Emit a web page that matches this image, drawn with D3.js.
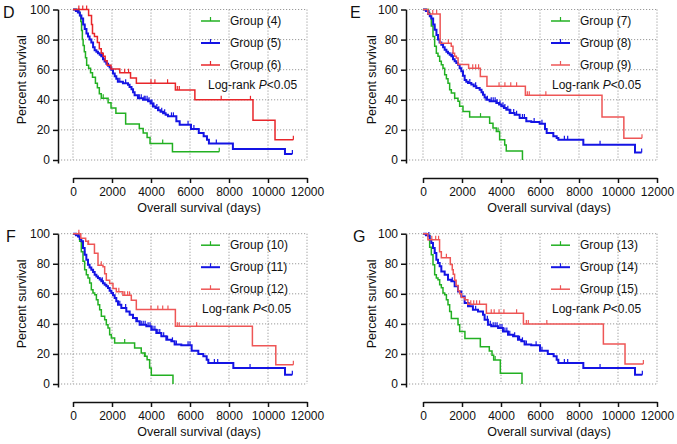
<!DOCTYPE html>
<html>
<head>
<meta charset="utf-8">
<script src="https://cdn.jsdelivr.net/npm/d3@7"></script>
<style>
  body { margin: 0; background: #fff; }
  svg { display: block; }
  text { font-family: "Liberation Sans", Arial, sans-serif; fill: #111; }
</style>
</head>
<body>
<svg id="chart"></svg>
<script>
const xTicks = [0, 2000, 4000, 6000, 8000, 10000, 12000]
const yTicks = [0, 20, 40, 60, 80, 100]
const panelLetters = ['D', 'E', 'F', 'G']
const groupLabels = [
  ['Group (4)', 'Group (5)', 'Group (6)'],
  ['Group (7)', 'Group (8)', 'Group (9)'],
  ['Group (10)', 'Group (11)', 'Group (12)'],
  ['Group (13)', 'Group (14)', 'Group (15)'],
]

// [days, percent surviving after the step]
const g4 = [[0,100],[300,98],[350,96],[400,92],[440,86],[480,80],[520,76],[580,72],[640,68],[700,63],[800,61],[900,58],[1000,55],[1150,51],[1250,48],[1350,44],[1450,41],[1800,38],[1950,34.5],[2200,31],[2700,24],[3400,21],[3600,18],[3800,15],[3950,11],[5100,5.5]]
const g4Cens = [1550, 4600, 7500]
const b5 = [[0,100],[150,99],[250,98],[350,96],[430,94],[520,90],[600,87],[690,84],[770,82],[850,80],[940,78],[1030,75],[1110,73],[1200,72],[1280,71],[1370,70],[1450,69],[1540,67],[1620,65.5],[1710,64],[1800,62.7],[1880,61.5],[1960,60],[2050,57.5],[2140,55.6],[2220,54],[2300,52],[2560,51],[2820,50],[2900,48.5],[3000,47],[3080,45],[3160,43],[3330,41],[3590,40],[3850,39],[3980,37.5],[4100,35.6],[4230,34.5],[4360,33],[4490,32],[4620,31],[4750,30],[4870,29],[5300,25.7],[5470,23.5],[6050,20.6],[6450,18],[6700,15.7],[6870,13.5],[6970,11],[8200,7.3],[10870,4]]
const b5Cens = [300,600,1500,2400,2700,3400,3500,3650,3700,3800,3900,4000,4050,4150,4300,4400,4550,4700,5050,5150,5900,6200,7350,11250]
const r6 = [[0,100],[800,96],[950,90],[1000,84],[1100,82],[1250,78],[1350,74],[1450,71],[1550,69],[1650,66],[1750,63],[1950,60.5],[2400,58],[2950,54.5],[3250,51],[5250,46.5],[6250,40],[9230,26.4],[10360,13.5]]
const r6Cens = [300,500,700,2650,2850,4000,4200,4850,5350,5450,7600,9100,11300]

const g7 = [[0,100],[280,98],[342,95.5],[427,89],[513,82],[598,75.5],[684,71],[769,69],[855,65.6],[940,63.3],[1025,61],[1111,56.7],[1200,54],[1282,51],[1367,46.7],[1453,44.5],[1624,41],[1795,39],[1880,35.7],[2051,32.3],[2393,28.5],[3418,24.5],[3590,21.3],[3760,19],[3930,13.5],[4190,10],[4270,6],[5100,0]]
const g7Cens = [2950, 3850]
const b8 = [[0,100],[150,99],[256,97],[350,95.5],[427,94],[520,90],[598,86.6],[690,83],[769,80],[850,78],[940,76.6],[1030,75],[1111,73.3],[1200,72],[1282,71],[1370,70],[1453,68.9],[1540,67],[1624,65.6],[1710,64.5],[1795,63.3],[1880,61],[1966,58.9],[2050,56],[2136,53.2],[2220,52],[2307,51.2],[2478,50.1],[2600,49],[2734,47.8],[2905,46.7],[3000,45],[3076,43.4],[3160,41.5],[3247,40.1],[3418,39],[3760,37.9],[3900,36.8],[4016,35.7],[4150,34.5],[4273,33.4],[4444,31.2],[4700,30.1],[4956,27.9],[5298,25.7],[5554,25.2],[5982,24.1],[6256,20.6],[6342,17.9],[6684,15.7],[6855,14.6],[6940,13.5],[8222,10.2],[10872,5]]
const b8Cens = [300,600,1500,2400,2700,3300,3500,3600,3700,3800,3950,4100,4200,4350,4500,4650,4800,5100,5200,5700,6100,7250,7420,9080,11214]
const r9 = [[0,100],[250,97],[880,77.5],[1450,75.5],[1540,71],[1620,69],[1710,67.8],[1800,63.5],[2340,61],[2940,55.5],[3280,49],[5250,43],[9180,28.5],[10300,14.5]]
const r9Cens = [500,700,1300,2550,2700,2850,3900,4200,4500,4800,5350,5450,6300,11230]

const g10 = [[0,100],[300,98],[342,95],[427,88],[513,81.6],[598,76],[684,72.7],[769,70.5],[855,67.2],[940,62.7],[1025,60.5],[1111,59.4],[1200,56],[1282,52.8],[1367,49.4],[1453,45],[1624,42.8],[1709,39.5],[1795,37.3],[1880,32.8],[1966,30.6],[2136,27.3],[3160,23.9],[3500,20.6],[3670,18.4],[3800,16.2],[3930,10.6],[4016,5.8],[5127,0]]
const g10Cens = [2650, 3700]
const b11 = [[0,100],[150,99],[256,98.2],[350,96.5],[427,94.9],[513,90.5],[598,86],[684,82.7],[769,79.4],[850,77.5],[940,76],[1030,74.5],[1111,72.7],[1200,71.5],[1282,70.5],[1370,69.5],[1453,68.3],[1540,67],[1624,66.1],[1710,65],[1795,63.9],[1880,62],[1966,60.5],[2050,59],[2136,57.2],[2220,55],[2307,52.8],[2478,50.6],[2734,48.3],[2905,46.1],[3076,43.9],[3247,41.7],[3418,39.5],[3760,38.4],[4016,36.1],[4273,33.9],[4530,31.7],[4786,29.5],[5043,28.4],[5212,26.2],[5554,25.7],[6085,22.1],[6427,19.9],[6684,18.4],[6855,16.2],[6940,14],[8222,10.6],[10872,6.2]]
const b11Cens = [300,600,1500,2400,2700,3300,3500,3600,3700,3850,3950,4100,4200,4350,4450,4650,4850,5100,5300,5900,6000,7250,7420,9080,11248]
const r12 = [[0,100],[400,97],[650,95],[769,93],[1100,87],[1282,79],[1538,78],[1624,73.4],[1709,69],[1880,66.8],[2051,63.5],[2222,61.3],[2560,59],[2990,55.7],[3247,49.5],[5250,38.5],[9200,25.5],[10400,12.8]]
const r12Cens = [300,800,1450,2350,2650,2800,2900,4000,4350,4600,4870,5350,5450,6340,11300]

const g13 = [[0,100],[250,99],[342,91],[427,86],[513,79.4],[598,72.7],[684,70.5],[769,69.4],[855,66],[940,64],[1025,60.5],[1111,59.4],[1200,56],[1282,52.8],[1367,48.3],[1453,43.6],[1795,39.5],[1880,35],[2150,30.3],[2940,24.8],[3400,22],[3540,19.2],[3624,15.9],[3965,7.1],[5077,0]]
const g13Cens = [3700]
const b14 = [[0,100],[150,99],[256,98.5],[342,96],[427,93.8],[513,90.5],[598,87.1],[684,82.7],[769,80.5],[855,78.3],[940,74.9],[1111,72.7],[1282,69.4],[1453,68.3],[1624,65],[1795,61.6],[1966,58.3],[2136,53.9],[2307,51.7],[2560,49.4],[2820,48.3],[3076,46.1],[3160,42.8],[3330,39.5],[3500,38.4],[3850,37.3],[4100,35],[4360,32.8],[4620,31.7],[4870,29.5],[5040,28.4],[5210,26.2],[5550,25.7],[6000,22.1],[6400,19.9],[6700,18.4],[6855,16.2],[6940,14],[8222,10.6],[10872,6.2]]
const b14Cens = [300,600,1500,2400,2700,3300,3450,3600,3700,3800,3950,4050,4200,4300,4450,4700,4950,5100,5300,5800,6100,7250,7420,9080,11248]
const r15 = [[0,100],[250,96],[850,88],[940,84],[1400,79.5],[1500,76],[1550,73],[1620,69],[1700,65.5],[1800,62],[1880,60],[1970,57.5],[2150,56],[2300,53],[3250,47],[5150,40],[9250,26.6],[10360,13.3]]
const r15Cens = [450,650,800,1200,2450,2600,2750,2900,3500,3650,3900,4150,4800,5300,5400,6350,11300]

const green = '#22b022'
const blue = '#1414e4'

const panels = [
  { col: 0, row: 0, red: '#e8262a', logDx: 135, curves: [[g4, g4Cens], [b5, b5Cens], [r6, r6Cens]] },
  { col: 1, row: 0, red: '#ee5656', logDx: 129, curves: [[g7, g7Cens], [b8, b8Cens], [r9, r9Cens]] },
  { col: 0, row: 1, red: '#ee5656', logDx: 129, curves: [[g10, g10Cens], [b11, b11Cens], [r12, r12Cens]] },
  { col: 1, row: 1, red: '#ee5656', logDx: 129, curves: [[g13, g13Cens], [b14, b14Cens], [r15, r15Cens]] },
]

const cols = [{ x0: 73, x1: 307, axisX: 58, letterX: 3 }, { x0: 423, x1: 657, axisX: 406, letterX: 350 }]
const rows = [{ top: 9.5, bottom: 160, axisY: 178, base: 0 }, { top: 233.7, bottom: 384, axisY: 402, base: 224.2 }]

const svg = d3.select('#chart').attr('width', 677).attr('height', 444)

const survAt = (steps, t) => {
  let s = steps[0][1]
  steps.forEach(d => { if (d[0] <= t) s = d[1] })
  return s
}

panels.forEach((p, i) => {
  const c = cols[p.col]
  const r = rows[p.row]
  const x = d3.scaleLinear().domain([0, 12000]).range([c.x0, c.x1])
  const y = d3.scaleLinear().domain([0, 100]).range([r.bottom, r.top])
  const colors = [green, blue, p.red]
  const g = svg.append('g')

  // dotted grid
  g.append('g').selectAll('line.vg')
    .data(xTicks)
    .join('line')
      .attr('x1', d => x(d)).attr('x2', d => x(d))
      .attr('y1', y(100)).attr('y2', y(0))
      .attr('stroke', '#9a9a9a').attr('stroke-width', 1).attr('stroke-dasharray', '1.2,1.8')
  g.append('g').selectAll('line.hg')
    .data(yTicks)
    .join('line')
      .attr('x1', c.axisX).attr('x2', x(12000))
      .attr('y1', d => y(d)).attr('y2', d => y(d))
      .attr('stroke', '#9a9a9a').attr('stroke-width', 1).attr('stroke-dasharray', '1.2,1.8')

  // axes, offset prism-style
  const yAxisScale = y.copy().domain([-2, 100]).range([y(-2), y(100)])
  const yAxis = g.append('g')
    .attr('transform', `translate(${c.axisX},0)`)
    .call(d3.axisLeft(yAxisScale).tickValues(yTicks).tickSize(5).tickSizeOuter(0).tickPadding(3))
  const xAxis = g.append('g')
    .attr('transform', `translate(0,${r.axisY})`)
    .call(d3.axisBottom(x).tickValues(xTicks).tickFormat(d3.format('d')).tickSize(5).tickSizeOuter(0).tickPadding(4))
  ;[yAxis, xAxis].forEach(a => {
    a.selectAll('path,line').attr('stroke', '#111').attr('stroke-width', 1.5)
    a.selectAll('text').attr('font-size', '12px').attr('fill', '#111')
      .style('font-family', '"Liberation Sans", Arial, sans-serif')
  })

  g.append('text')
    .attr('transform', `translate(${c.x0 - 47},${(r.top + r.bottom) / 2 - 5}) rotate(-90)`)
    .attr('text-anchor', 'middle')
    .attr('font-size', '12.5px')
    .text('Percent survival')
  g.append('text')
    .attr('x', c.x0 + 126).attr('y', r.axisY + 34)
    .attr('text-anchor', 'middle')
    .attr('font-size', '12.5px')
    .text('Overall survival (days)')
  g.append('text')
    .attr('x', c.letterX + (p.row ? 3 : 0)).attr('y', r.base + 18)
    .attr('font-size', '16px')
    .text(panelLetters[i])

  // survival curves
  const line = d3.line().x(d => x(d[0])).y(d => y(d[1])).curve(d3.curveStepAfter)
  p.curves.forEach(([steps, cens], k) => {
    const end = d3.max(cens.concat(steps.map(d => d[0])))
    const pts = steps.concat([[end, steps[steps.length - 1][1]]])
    const w = k === 1 ? 2 : 1.5
    g.append('path')
      .attr('d', line(pts))
      .attr('fill', 'none')
      .attr('stroke', colors[k])
      .attr('stroke-width', w)
    g.append('g').selectAll('line')
      .data(cens)
      .join('line')
        .attr('x1', d => x(d)).attr('x2', d => x(d))
        .attr('y1', d => y(survAt(steps, d)))
        .attr('y2', d => y(survAt(steps, d)) - 4)
        .attr('stroke', colors[k])
        .attr('stroke-width', 1.2)
  })

  // legend
  const legend = g.append('g').selectAll('g')
    .data(groupLabels[i])
    .join('g')
      .attr('transform', (_, k) => `translate(${c.x0 + 128},${r.base + 21 + k * 22})`)
  legend.append('line')
    .attr('x1', 0).attr('x2', 19)
    .attr('stroke', (_, k) => colors[k])
    .attr('stroke-width', (_, k) => k === 1 ? 2 : 1.5)
  legend.append('line')
    .attr('x1', 9.5).attr('x2', 9.5).attr('y1', 0).attr('y2', -4)
    .attr('stroke', (_, k) => colors[k])
    .attr('stroke-width', 1.2)
  legend.append('text')
    .attr('x', 29).attr('dy', '0.35em')
    .attr('font-size', '12px')
    .text(d => d)

  const lr = g.append('text')
    .attr('x', c.x0 + p.logDx).attr('y', r.base + 89)
    .attr('font-size', '12px')
  lr.append('tspan').text('Log-rank ')
  lr.append('tspan').attr('font-style', 'italic').text('P')
  lr.append('tspan').text('<0.05')
})
</script>
</body>
</html>
